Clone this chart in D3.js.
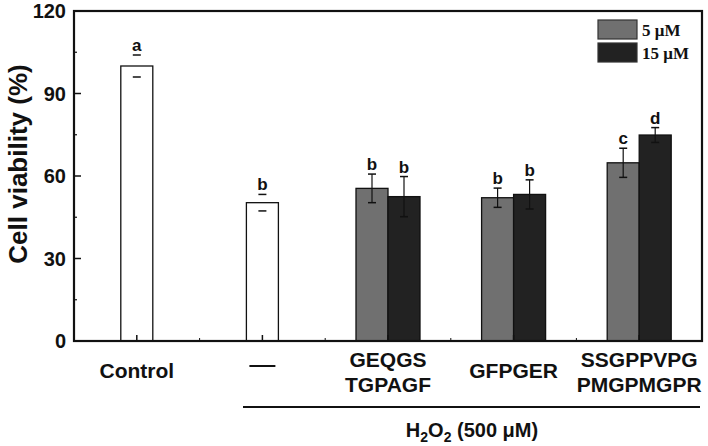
<!DOCTYPE html>
<html>
<head>
<meta charset="utf-8">
<script src="https://cdn.jsdelivr.net/npm/d3@7"></script>
<style>
  body { margin: 0; background: #fff; }
  text { font-family: Arial, "Liberation Sans", sans-serif; font-weight: bold; }
</style>
</head>
<body>
<div id="chart"></div>
<script>
// groups along the x axis, with their label lines
let groups = ["Control", "none", "GEQGS", "GFPGER", "SSGPPVPG"];
let groupLabels = [["Control"], ["\u2014"], ["GEQGS", "TGPAGF"], ["GFPGER"], ["SSGPPVPG", "PMGPMGPR"]];

// single white bars (no peptide)
let singleGroups = ["Control", "none"];
let singleValues = [100, 50.3];
let singleErrors = [4, 3];
let singleLetters = ["a", "b"];

// peptide groups, two concentrations
let pepGroups = ["GEQGS", "GFPGER", "SSGPPVPG"];
let series = ["5 \u03bcM", "15 \u03bcM"];
let val5 = [55.5, 52.1, 64.8];
let err5 = [5.2, 3.5, 5.3];
let let5 = ["b", "b", "c"];
let val15 = [52.5, 53.3, 74.9];
let err15 = [7.3, 5.3, 2.7];
let let15 = ["b", "b", "d"];

let yTicks = [0, 30, 60, 90, 120];
let colors = ["#707070", "#222222"];

let W = 708, H = 446;
let mLeft = 74, mRight = 702, mTop = 11, mBottom = 341;
let barW = 32;

let svg = d3.select("#chart").append("svg")
    .attr("width", W)
    .attr("height", H);

let x = d3.scaleBand()
    .domain(groups)
    .range([mLeft, mRight])
    .padding(0);

let y = d3.scaleLinear()
    .domain([0, 120])
    .range([mBottom, mTop]);

// build bar list
let bars = [];
singleGroups.forEach((g, i) => {
    bars.push({cx: x(g) + x.bandwidth() / 2, v: singleValues[i], e: singleErrors[i], l: singleLetters[i], fill: "#ffffff"});
});
pepGroups.forEach((g, i) => {
    let c = x(g) + x.bandwidth() / 2;
    bars.push({cx: c - barW / 2, v: val5[i], e: err5[i], l: let5[i], fill: colors[0]});
    bars.push({cx: c + barW / 2, v: val15[i], e: err15[i], l: let15[i], fill: colors[1]});
});

// bars
svg.selectAll("rect.bar")
    .data(bars)
    .enter()
    .append("rect")
    .attr("class", "bar")
    .attr("x", d => d.cx - barW / 2)
    .attr("y", d => y(d.v))
    .attr("width", barW)
    .attr("height", d => y(0) - y(d.v))
    .attr("fill", d => d.fill)
    .attr("stroke", "#111")
    .attr("stroke-width", 1.3);

// error bars (the white bars only show the caps)
bars.forEach(d => {
    if (d.fill != "#ffffff") {
        svg.append("line")
            .attr("x1", d.cx).attr("x2", d.cx)
            .attr("y1", y(d.v + d.e)).attr("y2", y(d.v - d.e))
            .attr("stroke", "#111").attr("stroke-width", 1.2);
    }
    [d.v + d.e, d.v - d.e].forEach(t => {
        svg.append("line")
            .attr("x1", d.cx - 4).attr("x2", d.cx + 4)
            .attr("y1", y(t)).attr("y2", y(t))
            .attr("stroke", "#111").attr("stroke-width", 1.5);
    });
    svg.append("text")
        .attr("x", d.cx)
        .attr("y", y(d.v + d.e) - 4)
        .attr("text-anchor", "middle")
        .attr("font-size", 17)
        .attr("fill", "#111")
        .text(d.l);
});

// frame
svg.append("rect")
    .attr("x", mLeft).attr("y", mTop)
    .attr("width", mRight - mLeft).attr("height", mBottom - mTop)
    .attr("fill", "none")
    .attr("stroke", "#111")
    .attr("stroke-width", 2.2);

// y axis ticks (inward) and labels
yTicks.forEach(t => {
    svg.append("line")
        .attr("x1", mLeft).attr("x2", mLeft + 7)
        .attr("y1", y(t)).attr("y2", y(t))
        .attr("stroke", "#111").attr("stroke-width", 1.5);
    svg.append("text")
        .attr("x", mLeft - 8)
        .attr("y", y(t) + 7)
        .attr("text-anchor", "end")
        .attr("font-size", 20)
        .attr("fill", "#111")
        .text(t);
});
d3.range(15, 120, 30).forEach(t => {
    svg.append("line")
        .attr("x1", mLeft).attr("x2", mLeft + 3)
        .attr("y1", y(t)).attr("y2", y(t))
        .attr("stroke", "#111").attr("stroke-width", 1.2);
});

// x axis ticks (inward)
groups.forEach(g => {
    let c = x(g) + x.bandwidth() / 2;
    svg.append("line")
        .attr("x1", c).attr("x2", c)
        .attr("y1", mBottom).attr("y2", mBottom - 6)
        .attr("stroke", "#111").attr("stroke-width", 1.5);
    svg.append("line")
        .attr("x1", x(g)).attr("x2", x(g))
        .attr("y1", mBottom).attr("y2", mBottom - 3)
        .attr("stroke", "#111").attr("stroke-width", 1);
});

// x labels
groups.forEach((g, i) => {
    let c = x(g) + x.bandwidth() / 2;
    let lines = groupLabels[i];
    if (lines[0] == "\u2014") {
        svg.append("line")
            .attr("x1", c - 13).attr("x2", c + 13)
            .attr("y1", 366).attr("y2", 366)
            .attr("stroke", "#111").attr("stroke-width", 2);
        return;
    }
    let y0 = lines.length == 1 ? 378 : 367;
    lines.forEach((s, j) => {
        svg.append("text")
            .attr("x", c)
            .attr("y", y0 + j * 25)
            .attr("text-anchor", "middle")
            .attr("font-size", 21)
            .attr("fill", "#111")
            .text(s);
    });
});

// H2O2 bracket line and label
svg.append("line")
    .attr("x1", 243).attr("x2", 700)
    .attr("y1", 407).attr("y2", 407)
    .attr("stroke", "#111").attr("stroke-width", 2);

let h2o2 = svg.append("text")
    .attr("x", 472)
    .attr("y", 437)
    .attr("text-anchor", "middle")
    .attr("font-size", 20)
    .attr("fill", "#111");
h2o2.append("tspan").text("H");
h2o2.append("tspan").attr("font-size", 14).attr("dy", 5).text("2");
h2o2.append("tspan").attr("dy", -5).text("O");
h2o2.append("tspan").attr("font-size", 14).attr("dy", 5).text("2");
h2o2.append("tspan").attr("dy", -5).text(" (500 \u03bcM)");

// y axis title
svg.append("text")
    .attr("transform", "translate(27,164) rotate(-90)")
    .attr("text-anchor", "middle")
    .attr("font-size", 26)
    .attr("fill", "#111")
    .text("Cell viability (%)");

// legend
series.forEach((s, i) => {
    svg.append("rect")
        .attr("x", 598)
        .attr("y", 20 + i * 23)
        .attr("width", 39)
        .attr("height", 19)
        .attr("fill", colors[i])
        .attr("stroke", "#333")
        .attr("stroke-width", 1.2);
    svg.append("text")
        .attr("x", 642)
        .attr("y", 36 + i * 23)
        .style("font-family", "'Liberation Serif', 'Times New Roman', serif")
        .attr("font-size", 17)
        .attr("fill", "#111")
        .text(s);
});
</script>
</body>
</html>
